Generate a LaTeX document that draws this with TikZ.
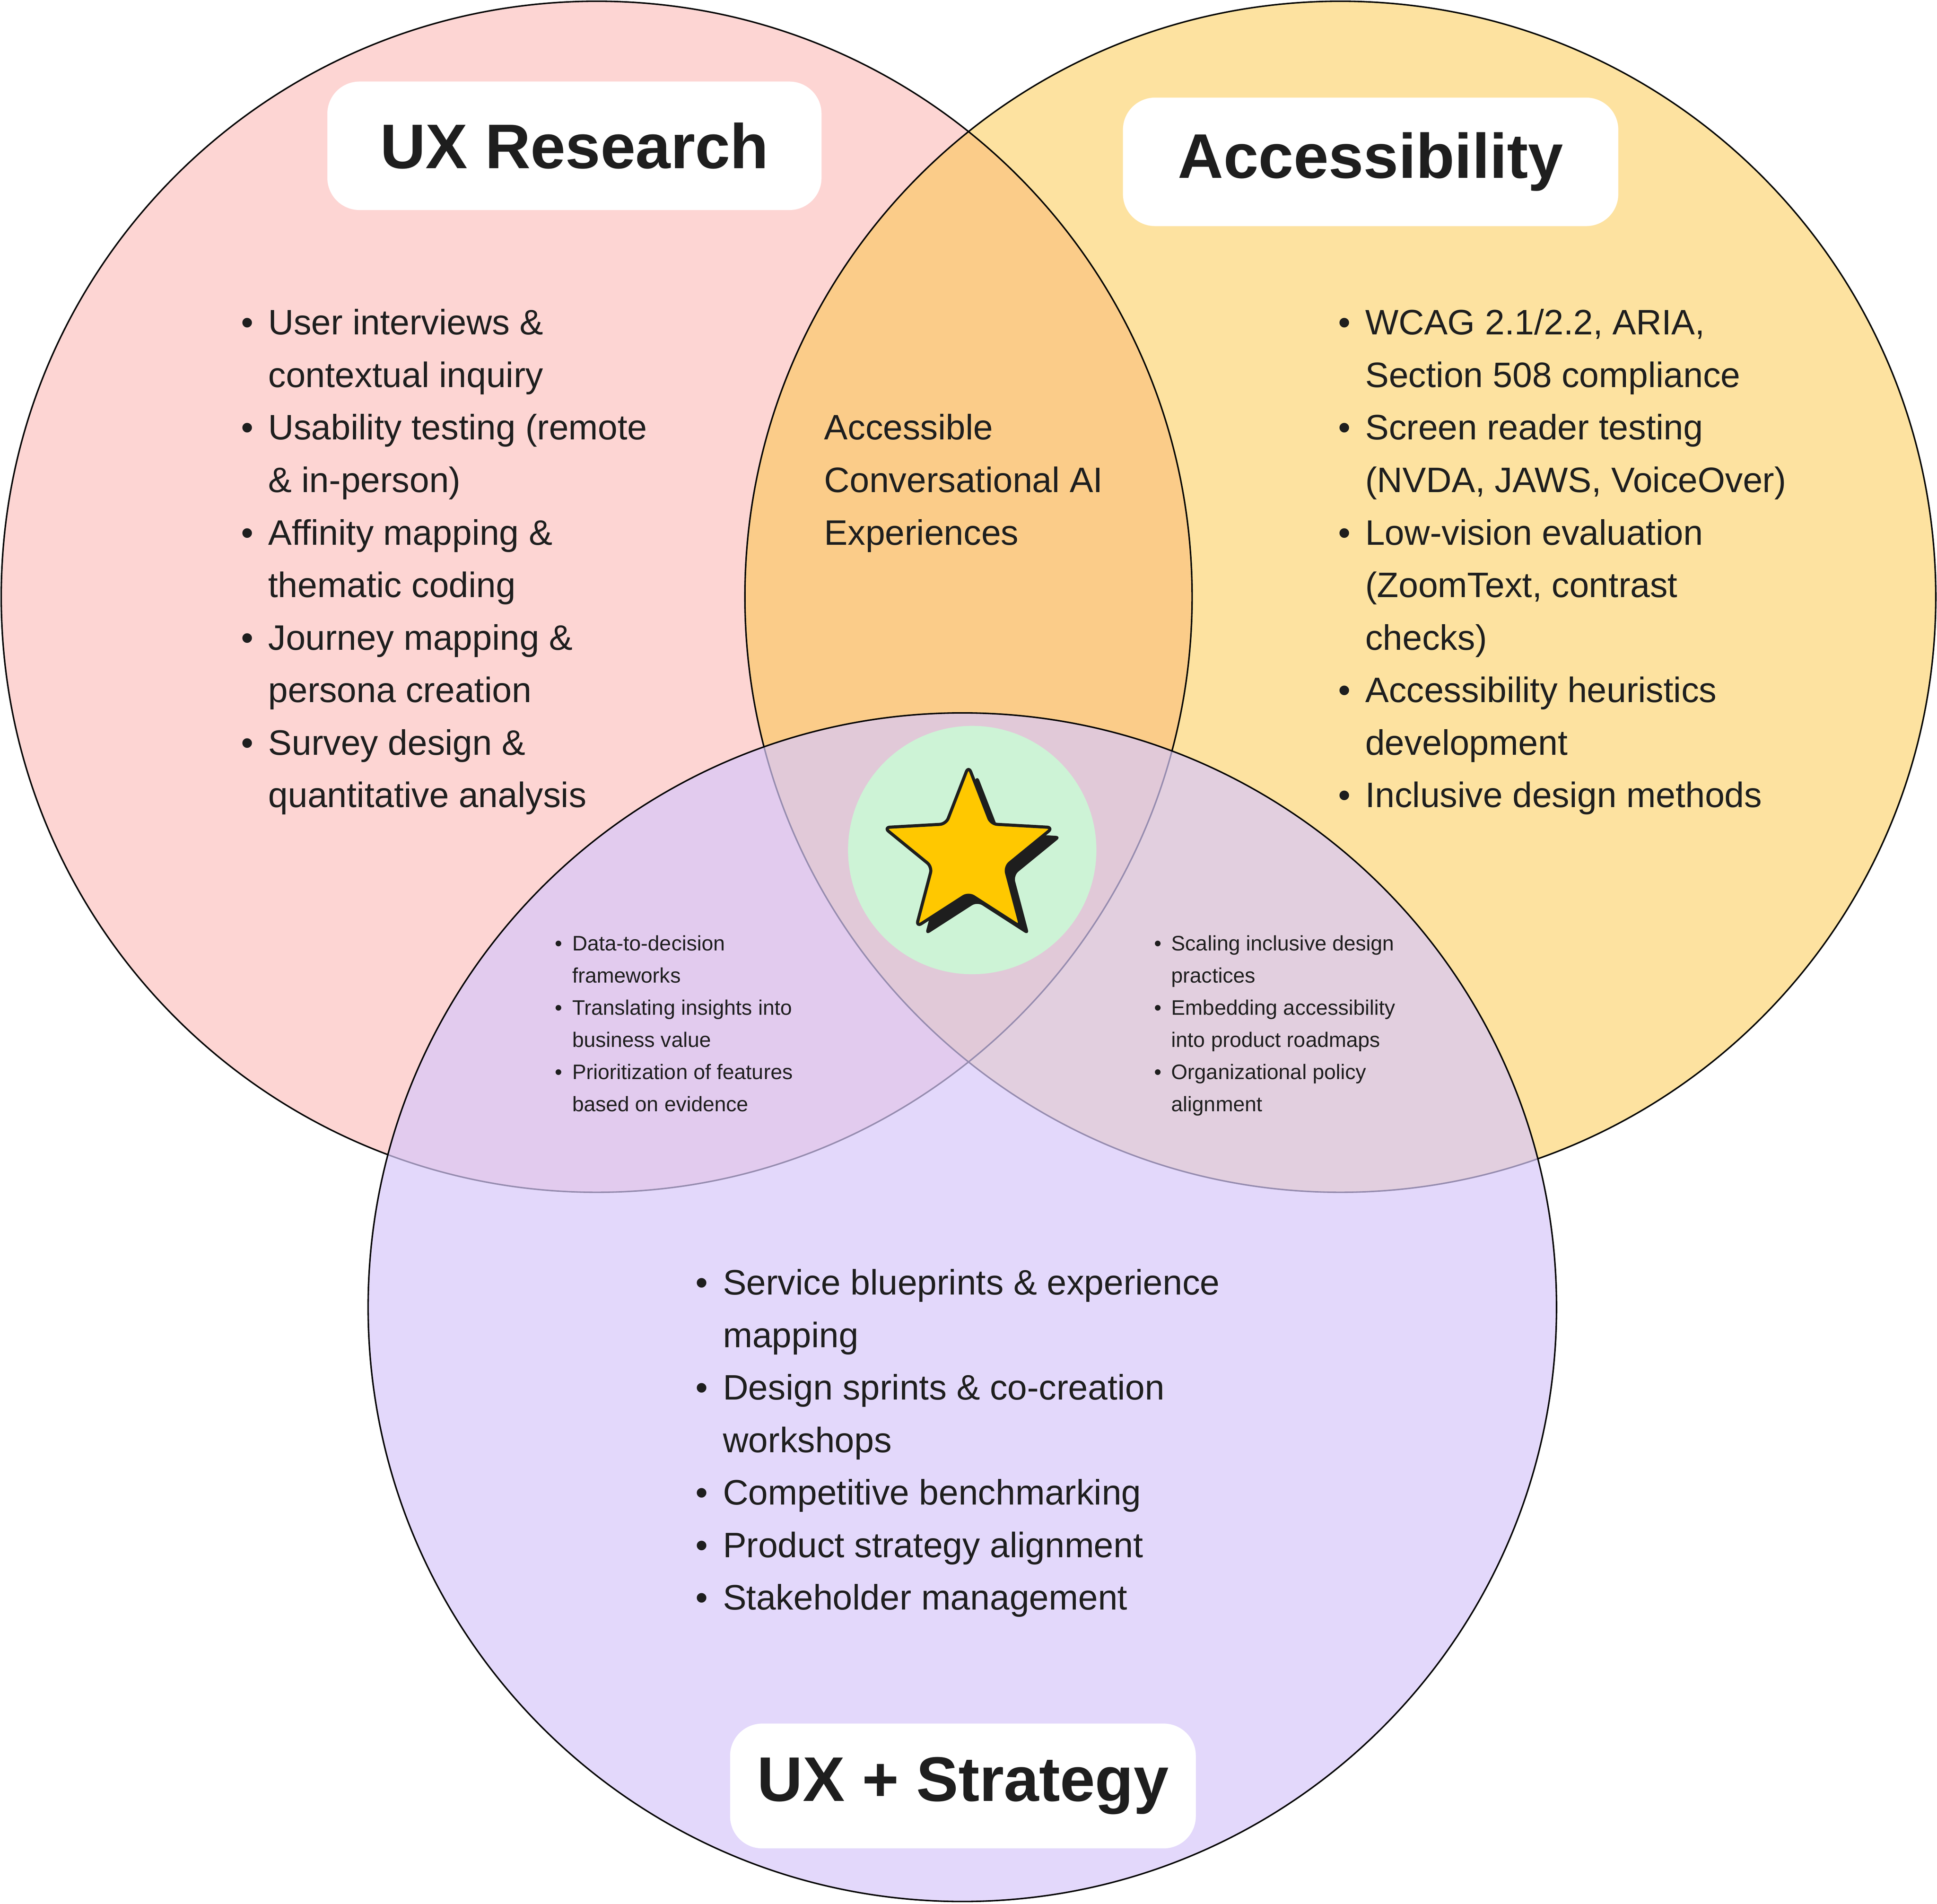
\documentclass[tikz,border=0pt]{standalone}
\usepackage{fontspec}
\setmainfont{Liberation Sans}
\definecolor{cred}{HTML}{FDD5D3}
\definecolor{cyel}{RGB}{251,197,65}
\definecolor{cpur}{RGB}{215,200,250}
\definecolor{cgreen}{HTML}{CDF3D6}
\definecolor{cstar}{HTML}{FFC800}
\definecolor{ink}{HTML}{1E1E1E}
\newcommand{\bl}{\llap{\textbullet\hspace{12pt}}}
\newcommand{\sbl}{\llap{\textbullet\hspace{8pt}}}
\tikzset{
 ring/.style={draw=black,line width=1.2pt},
 titlebox/.style={fill=white,rounded corners=26pt,inner sep=0pt,font=\fontsize{51}{60}\selectfont\bfseries,text=ink},
 biglist/.style={anchor=north west,inner sep=0pt,align=left,text=ink,font=\fontsize{28.6}{42.5}\selectfont},
 smalllist/.style={anchor=north west,inner sep=0pt,align=left,text=ink,font=\fontsize{17}{26}\selectfont},
}
\begin{document}
\begin{tikzpicture}[x=1pt,y=-1pt]
\useasboundingbox (0,0) rectangle (1568,1541);
\fill[cred] (483,483) circle (482);
\fill[cyel,fill opacity=0.5] (1085,483) circle (482);
\draw[ring] (483,483) circle (482);
\draw[ring] (1085,483) circle (482);
\fill[cpur,fill opacity=0.7] (779,1058) circle (481);
\draw[ring] (779,1058) circle (481);
% titles
\node[titlebox,minimum width=400pt,minimum height=104pt] (t1) at (465,118) {UX Research};
\node[titlebox,minimum width=401pt,minimum height=104pt] (t2) at (1109.5,131) {Accessibility};
\node[titlebox,minimum width=377pt,minimum height=101pt] (t3) at (779.5,1445.5) {UX + Strategy};
% lists
\node[biglist] (l1) at (217,250) {\bl User interviews \&\\contextual inquiry\\\bl Usability testing (remote\\\& in-person)\\\bl Affinity mapping \&\\thematic coding\\\bl Journey mapping \&\\persona creation\\\bl Survey design \&\\quantitative analysis};
\node[biglist] (l2) at (1105,250) {\bl WCAG 2.1/2.2, ARIA,\\Section 508 compliance\\\bl Screen reader testing\\(NVDA, JAWS, VoiceOver)\\\bl Low-vision evaluation\\(ZoomText, contrast\\checks)\\\bl Accessibility heuristics\\development\\\bl Inclusive design methods};
\node[biglist] (l3) at (667,335) {Accessible\\Conversational AI\\Experiences};
\node[biglist] (l4) at (585,1027) {\bl Service blueprints \& experience\\mapping\\\bl Design sprints \& co-creation\\workshops\\\bl Competitive benchmarking\\\bl Product strategy alignment\\\bl Stakeholder management};
\node[smalllist] (s1) at (463,757) {\sbl Data-to-decision\\frameworks\\\sbl Translating insights into\\business value\\\sbl Prioritization of features\\based on evidence};
\node[smalllist] (s2) at (948,757) {\sbl Scaling inclusive design\\practices\\\sbl Embedding accessibility\\into product roadmaps\\\sbl Organizational policy\\alignment};
% star
\node[circle,fill=cgreen,minimum size=201pt,inner sep=0pt] (core) at (787,688) {};
\fill[ink,rounded corners=5pt] plot[samples at={0,1,...,9},variable=\i]
 ({791+(mod(\i,2)==0?72:31)*cos(90+36*\i)},{699-(mod(\i,2)==0?72:31)*sin(90+36*\i)}) -- cycle;
\draw[fill=cstar,draw=ink,line width=2.5pt,line join=round,rounded corners=5pt] plot[samples at={0,1,...,9},variable=\i]
 ({784+(mod(\i,2)==0?72:31)*cos(90+36*\i)},{692-(mod(\i,2)==0?72:31)*sin(90+36*\i)}) -- cycle;
\end{tikzpicture}
\end{document}
